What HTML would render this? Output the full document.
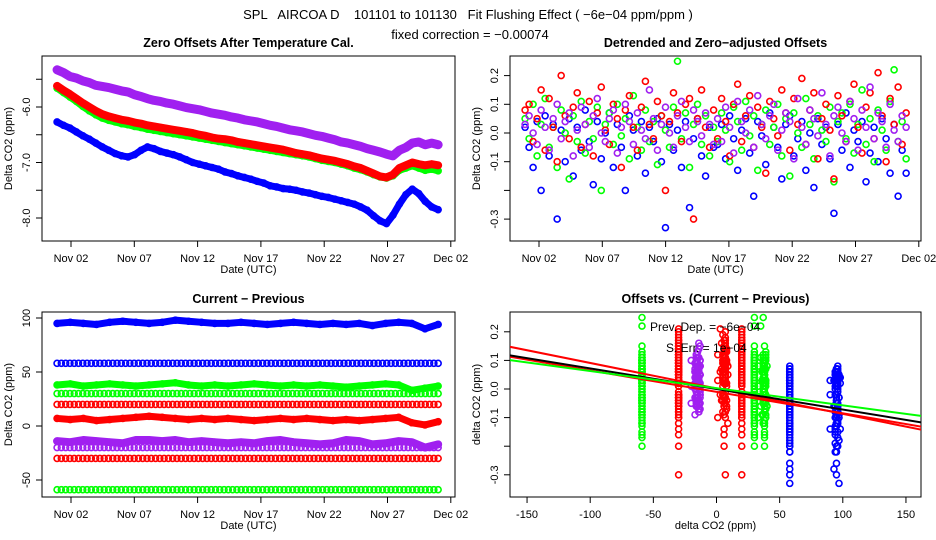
<!DOCTYPE html>
<html><head><meta charset="utf-8"><style>
html,body{margin:0;padding:0;background:#fff;}
svg{display:block;font-family:"Liberation Sans",sans-serif;}
.pre{white-space:pre;}
</style></head><body>
<svg id="fig" width="936" height="540" viewBox="0 0 936 540">
<text class="pre" x="468" y="19" text-anchor="middle" font-size="13">SPL   AIRCOA D    101101 to 101130   Fit Flushing Effect ( −6e−04 ppm/ppm )</text>
<text x="470" y="39" text-anchor="middle" font-size="13">fixed correction = −0.00074</text>
</svg>
<script>
// ---- data ----
const dayTicks = ["Nov 02","Nov 07","Nov 12","Nov 17","Nov 22","Nov 27","Dec 02"];
const dayTickVals = [2,7,12,17,22,27,32];
const p1Ticks = [-5.5,-6.0,-6.5,-7.0,-7.5,-8.0];
const p1Labels = ["","-6.0","","-7.0","","-8.0"];
const p2Ticks = [0.2,0.1,0.0,-0.1,-0.2,-0.3];
const p2Labels = ["0.2","0.1","0.0","-0.1","","-0.3"];
const p3Ticks = [100,50,0,-50];
const p3Labels = ["100","50","0","-50"];
const p4XTicks = [-150,-100,-50,0,50,100,150];
const p4YTicks = [0.2,0.1,0.0,-0.1,-0.2,-0.3];
const p4YLabels = ["0.2","0.1","0.0","-0.1","","-0.3"];

const offBlue = [-6.27,-6.33,-6.38,-6.45,-6.52,-6.58,-6.65,-6.72,-6.78,-6.84,-6.88,-6.90,-6.86,-6.78,-6.72,-6.75,-6.80,-6.83,-6.86,-6.90,-6.95,-7.00,-7.03,-7.06,-7.09,-7.12,-7.17,-7.20,-7.24,-7.27,-7.30,-7.34,-7.37,-7.42,-7.44,-7.47,-7.48,-7.50,-7.53,-7.55,-7.58,-7.61,-7.63,-7.66,-7.69,-7.72,-7.75,-7.80,-7.86,-7.96,-8.05,-8.10,-7.95,-7.75,-7.58,-7.48,-7.56,-7.70,-7.80,-7.85];
const offGreen = [-5.66,-5.74,-5.82,-5.90,-5.99,-6.07,-6.14,-6.20,-6.24,-6.27,-6.30,-6.32,-6.35,-6.37,-6.40,-6.42,-6.44,-6.46,-6.48,-6.50,-6.52,-6.54,-6.56,-6.58,-6.60,-6.62,-6.64,-6.66,-6.68,-6.70,-6.72,-6.74,-6.76,-6.78,-6.80,-6.82,-6.84,-6.86,-6.88,-6.90,-6.93,-6.96,-6.98,-7.00,-7.03,-7.06,-7.10,-7.13,-7.17,-7.22,-7.26,-7.28,-7.24,-7.14,-7.10,-7.06,-7.10,-7.14,-7.12,-7.15];
const offRed = [-5.62,-5.70,-5.77,-5.85,-5.93,-6.00,-6.07,-6.13,-6.17,-6.20,-6.23,-6.25,-6.28,-6.30,-6.33,-6.35,-6.37,-6.39,-6.41,-6.43,-6.45,-6.47,-6.50,-6.52,-6.55,-6.57,-6.58,-6.60,-6.63,-6.65,-6.67,-6.69,-6.71,-6.73,-6.75,-6.77,-6.80,-6.83,-6.85,-6.87,-6.90,-6.93,-6.95,-6.97,-7.00,-7.03,-7.07,-7.10,-7.15,-7.20,-7.25,-7.27,-7.22,-7.10,-7.05,-7.00,-7.03,-7.05,-7.03,-7.05];
const offPurple = [-5.33,-5.38,-5.45,-5.48,-5.53,-5.56,-5.61,-5.63,-5.65,-5.68,-5.71,-5.73,-5.78,-5.81,-5.85,-5.88,-5.90,-5.93,-5.95,-5.98,-6.01,-6.03,-6.05,-6.08,-6.11,-6.13,-6.15,-6.18,-6.20,-6.23,-6.25,-6.27,-6.30,-6.33,-6.35,-6.38,-6.41,-6.43,-6.45,-6.48,-6.51,-6.53,-6.56,-6.59,-6.63,-6.65,-6.68,-6.71,-6.75,-6.78,-6.81,-6.85,-6.88,-6.78,-6.73,-6.65,-6.63,-6.68,-6.65,-6.68];

const resBlue = [0.02,-0.05,-0.12,0.04,-0.20,0.06,-0.08,0.03,-0.30,0.01,-0.10,0.05,-0.15,0.02,-0.06,0.08,-0.03,-0.18,0.04,-0.09,0.00,0.07,-0.12,0.03,-0.05,-0.20,0.06,0.01,-0.08,0.04,-0.14,0.02,-0.03,0.05,-0.10,-0.33,0.03,-0.06,0.01,-0.12,0.04,-0.26,-0.02,0.05,-0.08,-0.15,0.02,-0.05,
 -0.04,0.03,-0.09,0.06,-0.02,-0.13,0.01,0.05,-0.07,-0.22,0.04,-0.01,-0.11,0.07,0.02,-0.05,-0.16,0.03,0.06,-0.08,-0.02,0.04,-0.13,0.00,-0.19,0.05,-0.04,0.02,-0.09,-0.28,0.03,-0.06,0.07,-0.12,0.01,-0.03,0.04,-0.17,-0.07,0.02,-0.10,0.05,-0.02,-0.14,0.03,-0.22,-0.06,-0.14];
const resGreen = [0.05,-0.02,0.10,-0.08,0.03,0.12,-0.05,0.02,-0.12,0.08,0.00,-0.16,0.06,-0.03,0.11,-0.07,0.04,-0.02,0.09,-0.20,0.03,0.07,-0.04,0.10,-0.01,0.05,-0.09,0.13,0.02,-0.06,0.08,-0.03,0.04,-0.11,0.06,0.01,-0.05,0.09,0.25,-0.02,0.07,-0.12,0.03,0.10,-0.04,0.06,-0.08,0.02,
 -0.03,0.07,0.01,-0.10,0.09,0.04,-0.06,0.11,-0.01,0.06,-0.13,0.03,0.08,-0.04,0.02,0.10,-0.08,0.05,-0.15,0.07,0.00,-0.05,0.12,0.03,-0.09,0.06,0.01,-0.03,0.09,-0.17,0.04,0.07,-0.02,0.10,-0.07,0.03,0.15,-0.04,0.05,-0.10,0.08,0.01,-0.06,0.11,0.22,-0.03,0.04,-0.09];
const resRed = [0.08,0.10,-0.03,0.05,0.15,-0.06,0.12,0.02,-0.10,0.20,0.06,-0.02,0.09,0.14,-0.05,0.03,0.11,-0.08,0.07,0.16,0.01,-0.04,0.10,0.05,-0.12,0.08,0.13,0.02,-0.06,0.09,0.18,0.03,-0.02,0.11,0.06,-0.20,0.04,0.14,0.07,-0.03,0.10,0.12,-0.30,0.05,0.15,0.02,-0.05,0.08,
 -0.02,0.12,0.04,-0.08,0.10,0.17,-0.03,0.06,0.13,-0.05,0.09,0.02,-0.14,0.11,0.05,-0.01,0.15,0.07,-0.06,0.12,0.03,0.19,-0.04,0.08,0.14,-0.09,0.05,0.10,0.01,-0.16,0.13,0.06,-0.03,0.11,0.17,0.02,-0.07,0.09,0.14,-0.02,0.21,0.06,-0.10,0.12,0.03,0.16,-0.04,0.07];
const resPurple = [0.03,0.06,0.00,-0.04,0.08,0.02,-0.06,0.05,0.10,-0.02,0.04,0.07,-0.08,0.01,0.09,0.03,-0.05,0.06,0.12,0.00,-0.03,0.05,0.08,-0.07,0.02,0.10,0.04,-0.04,0.07,0.01,-0.02,0.15,0.05,-0.06,0.03,0.09,0.00,-0.05,0.06,0.11,0.02,-0.03,0.08,0.04,-0.01,0.07,0.03,-0.04,
 0.05,-0.03,0.09,0.02,-0.07,0.11,0.04,0.00,0.08,-0.05,0.13,0.03,-0.02,0.06,0.10,-0.06,0.01,0.07,0.04,-0.09,0.12,0.02,-0.04,0.08,0.05,-0.01,0.14,0.03,-0.08,0.06,0.09,0.00,-0.03,0.11,0.05,-0.06,0.08,0.02,0.16,-0.02,0.07,0.04,-0.05,0.10,0.01,-0.03,0.06,0.02];

const cpBlue = [95,96,95,94,96,97,96,95,96,98,97,96,95,95,96,95,94,95,96,95,94,95,94,95,93,95,96,95,90,94];
const cpGreen = [38,39,37,38,39,38,37,38,39,40,38,37,38,37,38,39,38,37,38,37,38,37,36,37,38,39,38,33,35,37];
const cpRed = [7,6,7,5,6,7,8,9,8,7,6,7,6,7,6,5,6,7,6,7,6,5,6,5,6,7,8,3,1,4];
const cpPurple = [-14,-15,-13,-14,-15,-16,-13,-13,-14,-13,-15,-14,-15,-16,-15,-16,-14,-13,-15,-16,-17,-16,-13,-14,-17,-16,-14,-15,-20,-17];
const constLevels = [58,30,20,-20,-30,-59];
const constColors = ["#0000ff","#00ff00","#ff0000","#a020f0","#ff0000","#00ff00"];

const fitIntercepts = [0.002,-0.01,0.0,0.003];
const fitSlopes = [-0.00089,-0.00075,-0.00072,-0.0006];
const fitColors = ["#ff0000","#ff0000","#000000","#00ff00"];

// ---- helpers ----
const NS="http://www.w3.org/2000/svg";
const svg=document.getElementById('fig');
function mk(tag,attrs,parent){const e=document.createElementNS(NS,tag);for(const k in attrs)e.setAttribute(k,attrs[k]);(parent||svg).appendChild(e);return e;}
const T0=0.9,T1=31.0;
function tAt(i,n){return T0+i*(T1-T0)/(n-1);}
const COL={blue:"#0000ff",green:"#00ff00",red:"#ff0000",purple:"#a020f0"};

function panel(name,x0,x1,y0,y1){
  const g=mk('g',{});
  
  
  return {g,x0,x1,y0,y1};
}
function box(p){
  const r=mk('rect',{x:p.x0,y:p.y0,width:p.x1-p.x0,height:p.y1-p.y0,fill:'none',stroke:'#000','stroke-width':1},p.g);
  
  
}
function xAxis(p,vals,labels,sx){
  const g=mk('g',{},p.g);
  
  
  vals.forEach((v,i)=>{const x=sx(v);
    mk('line',{x1:x,x2:x,y1:p.y1,y2:p.y1+6,stroke:'#000'},g);
    const t=mk('text',{x:x,y:p.y1+21,'text-anchor':'middle','font-size':11},g);t.textContent=labels[i];
    
    
  });
}
function yAxis(p,vals,labels,sy){
  const g=mk('g',{},p.g);
  
  
  vals.forEach((v,i)=>{const y=sy(v);
    mk('line',{x1:p.x0-6,x2:p.x0,y1:y,y2:y,stroke:'#000'},g);
    if(labels[i]){const t=mk('text',{x:p.x0-12,y:y,'text-anchor':'middle','font-size':11,transform:`rotate(-90 ${p.x0-12} ${y})`},g);t.textContent=labels[i];
      
      }
  });
}
function titles(p,title,xt,yt){
  const t=mk('text',{x:(p.x0+p.x1)/2,y:p.y0-9,'text-anchor':'middle','font-size':12.5,'font-weight':'bold'},p.g);t.textContent=title;
  
  
  if(xt){const a=mk('text',{x:(p.x0+p.x1)/2,y:p.y1+32,'text-anchor':'middle','font-size':11},p.g);a.textContent=xt;
    
    }
  const cy=(p.y0+p.y1)/2,cx=p.x0-30;
  const b=mk('text',{x:cx,y:cy,'text-anchor':'middle','font-size':11,transform:`rotate(-90 ${cx} ${cy})`},p.g);b.textContent=yt;
  
  
}
function pt(g,x,y,c){
  const e=mk('circle',{cx:x,cy:y,r:3,fill:'none',stroke:c,'stroke-width':1.6},g);
  
  
}
function band(g,pts,c,w){
  const e=mk('polyline',{points:pts.map(p=>p.join(',')).join(' '),fill:'none',stroke:c,'stroke-width':w,'stroke-linejoin':'round','stroke-linecap':'round'},g);
  
  
}
function series(p,name,arr,c,sx,sy,bw){
  const g=mk('g',{},p.g);
  
  
  const pts=arr.map((v,i)=>[sx(tAt(i,arr.length)),sy(v)]);
  if(bw)band(g,pts,c,bw);
  pts.forEach(q=>pt(g,q[0],q[1],c));
}

// ---- panel 1 ----
{const p=panel('zero-offsets-panel',42,455,56,241);
 const sx=d=>71+(d-2)*12.66, sy=v=>107-(v+6)*55.5;
 box(p);xAxis(p,dayTickVals,dayTicks,sx);yAxis(p,p1Ticks,p1Labels,sy);
 titles(p,'Zero Offsets After Temperature Cal.','Date (UTC)','Delta CO2 (ppm)');
 series(p,'series-blue',offBlue,COL.blue,sx,sy,7);
 series(p,'series-green',offGreen,COL.green,sx,sy,7);
 series(p,'series-red',offRed,COL.red,sx,sy,8);
 series(p,'series-purple',offPurple,COL.purple,sx,sy,9);}

// ---- panel 2 ----
{const p=panel('detrended-offsets-panel',510,921,56,241);
 const sx=d=>539+(d-2)*12.66, sy=v=>133-v*287;
 box(p);xAxis(p,dayTickVals,dayTicks,sx);yAxis(p,p2Ticks,p2Labels,sy);
 titles(p,'Detrended and Zero−adjusted Offsets','Date (UTC)','Delta CO2 (ppm)');
 series(p,'series-blue',resBlue,COL.blue,sx,sy,0);
 series(p,'series-green',resGreen,COL.green,sx,sy,0);
 series(p,'series-red',resRed,COL.red,sx,sy,0);
 series(p,'series-purple',resPurple,COL.purple,sx,sy,0);}

// ---- panel 3 ----
{const p=panel('current-minus-previous-panel',42,455,312,497);
 const sx=d=>71+(d-2)*12.66, sy=v=>426-v*1.08;
 box(p);xAxis(p,dayTickVals,dayTicks,sx);yAxis(p,p3Ticks,p3Labels,sy);
 titles(p,'Current − Previous','Date (UTC)','Delta CO2 (ppm)');
 constLevels.forEach((lv,k)=>{
   const g=mk('g',{},p.g);
   
   
   for(let i=0;i<90;i++){pt(g,sx(tAt(i,90)),sy(lv),constColors[k]);}
 });
 series(p,'series-blue',cpBlue,COL.blue,sx,sy,7);
 series(p,'series-green',cpGreen,COL.green,sx,sy,7);
 series(p,'series-red',cpRed,COL.red,sx,sy,7);
 series(p,'series-purple',cpPurple,COL.purple,sx,sy,8);}

// ---- panel 4 ----
{const p=panel('offsets-vs-delta-panel',510,921,312,497);
 const sx=v=>716.5+v*1.263, sy=v=>389-v*286;
 box(p);xAxis(p,p4XTicks,p4XTicks.map(String),sx);yAxis(p,p4YTicks,p4YLabels,sy);
 titles(p,'Offsets vs. (Current − Previous)','delta CO2 (ppm)','delta CO2 (ppm)');
 const pairs=[[resBlue,cpBlue,COL.blue],[resBlue,[58],COL.blue],[resGreen,cpGreen,COL.green],[resGreen,[-59],COL.green],[resGreen,[30],COL.green],
   [resRed,cpRed,COL.red],[resRed,[20],COL.red],[resRed,[-30],COL.red],[resPurple,cpPurple,COL.purple]];
 pairs.forEach(([res,cp,c])=>{
   const g=mk('g',{},p.g);
   
   
   res.forEach((r,i)=>{const d=cp[Math.floor(i*cp.length/res.length)];pt(g,sx(d),sy(r),c);});
 });
 const cp=mk('clipPath',{id:'c4'},svg);mk('rect',{x:510,y:312,width:411,height:185},cp);
 fitIntercepts.forEach((b,k)=>{
   const l=mk('line',{x1:sx(-170),y1:sy(b+fitSlopes[k]*-170),x2:sx(170),y2:sy(b+fitSlopes[k]*170),stroke:fitColors[k],'stroke-width':2,'clip-path':'url(#c4)'},p.g);
   
   
 });
 const a=mk('text',{x:650,y:331,'font-size':12},p.g);a.textContent='Prev. Dep. = −6e−04';
 
 
 const b2=mk('text',{x:666,y:352,'font-size':12},p.g);b2.textContent='S. Err. = 1e−04';
 
 }
</script>
</body></html>
